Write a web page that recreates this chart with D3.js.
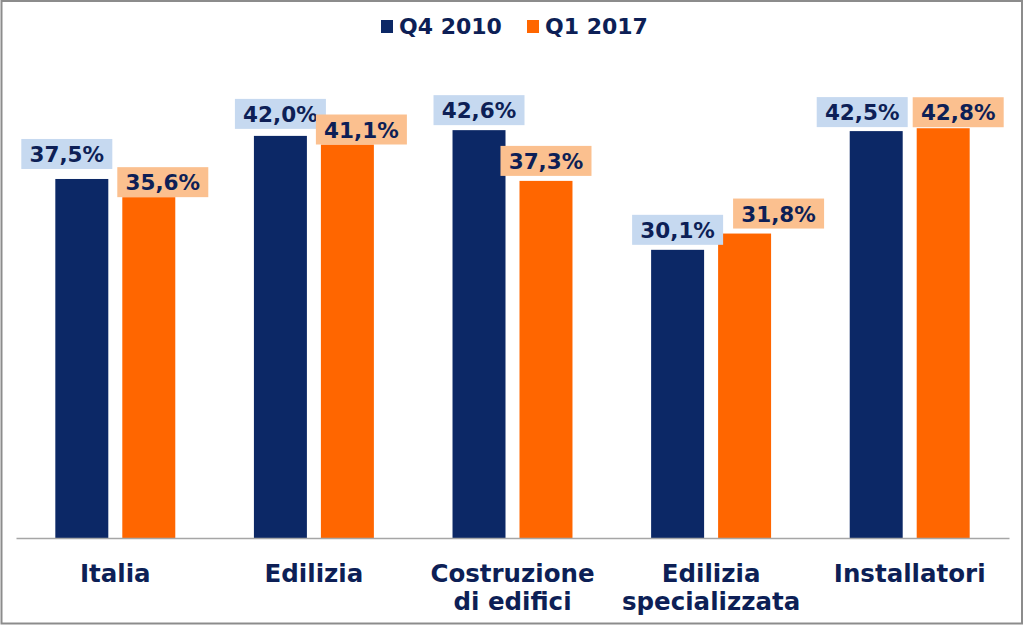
<!DOCTYPE html>
<html>
<head>
<meta charset="utf-8">
<script src="https://cdn.jsdelivr.net/npm/d3@7"></script>
<style>
  html, body { margin: 0; padding: 0; background: #fff; }
  svg { display: block; font-family: "DejaVu Sans", Verdana, sans-serif; font-weight: bold; }
</style>
</head>
<body>
<svg id="chart" width="1024" height="626"></svg>
<script>
// ---- data ----
const categories = [["Italia"], ["Edilizia"], ["Costruzione", "di edifici"], ["Edilizia", "specializzata"], ["Installatori"]];
const seriesNames = ["Q4 2010", "Q1 2017"];
const valuesQ4_2010 = [37.5, 42.0, 42.6, 30.1, 42.5];
const valuesQ1_2017 = [35.6, 41.1, 37.3, 31.8, 42.8];

// ---- layout / style ----
const W = 1024, H = 626;
const colors = { "Q4 2010": "#0c2866", "Q1 2017": "#ff6600" };
const labelFill = { "Q4 2010": "#c6d9f0", "Q1 2017": "#fbc08f" };
const textColor = "#0d1f56";
// manual label nudges (dx, dy) per series, per category, like the original
const labelNudge = {
  "Q4 2010": [[-15, -5], [0, -2], [0, 0], [0, 0], [-14, 1]],
  "Q1 2017": [[14, 5], [14, 5], [0, 0], [34, 0], [15, 4]]
};

const svg = d3.select("#chart");
svg.append("rect").attr("x", 0).attr("y", 0).attr("width", W).attr("height", H).attr("fill", "#fff");

const catKeys = categories.map(c => c.join(" "));
const x0 = d3.scaleBand().domain(catKeys).range([16, 1009]).paddingInner(0).paddingOuter(0);
const x1 = d3.scaleBand().domain(seriesNames).range([0, x0.bandwidth()]).paddingInner(0.209).paddingOuter(0.587);
const y = d3.scaleLinear().domain([0, 50]).range([538, 59.3]);

const rows = catKeys.map((k, i) => ({ key: k, lines: categories[i], i, vals: [
  { s: "Q4 2010", v: valuesQ4_2010[i] },
  { s: "Q1 2017", v: valuesQ1_2017[i] }
]}));

const g = svg.append("g");
const groups = g.selectAll("g.cat").data(rows).join("g")
  .attr("class", "cat")
  .attr("transform", d => `translate(${x0(d.key)},0)`);

groups.selectAll("rect.bar").data(d => d.vals).join("rect")
  .attr("class", "bar")
  .attr("x", d => x1(d.s))
  .attr("y", d => y(d.v))
  .attr("width", x1.bandwidth())
  .attr("height", d => y(0) - y(d.v))
  .attr("fill", d => colors[d.s]);

// axis baseline
const xAxis = d3.axisBottom(x0).tickSize(0).tickFormat("");
const ax = svg.append("g").attr("transform", `translate(0,${y(0)})`).call(xAxis);
ax.select(".domain").attr("stroke", "#a6a6a6").attr("stroke-width", 1.5);

// category labels
rows.forEach(r => {
  const cx = x0(r.key) + x0.bandwidth() / 2;
  const t = svg.append("text").attr("x", cx).attr("y", 582)
    .attr("text-anchor", "middle").attr("font-size", 24.5).attr("fill", textColor);
  r.lines.forEach((ln, j) => {
    t.append("tspan").attr("x", cx).attr("dy", j === 0 ? 0 : 28).text(ln);
  });
});

// data labels
const fmt = v => v.toFixed(1).replace(".", ",") + "%";
const boxW = 91, boxH = 30, gap = 5;
rows.forEach(r => {
  r.vals.forEach(d => {
    const n = labelNudge[d.s][r.i];
    const cx = x0(r.key) + x1(d.s) + x1.bandwidth() / 2 + n[0];
    const bottom = y(d.v) - gap + n[1];
    svg.append("rect").attr("x", cx - boxW / 2).attr("y", bottom - boxH)
      .attr("width", boxW).attr("height", boxH).attr("fill", labelFill[d.s]);
    svg.append("text").attr("x", cx).attr("y", bottom - boxH / 2 + 8)
      .attr("text-anchor", "middle").attr("font-size", 21.5).attr("fill", textColor)
      .text(fmt(d.v));
  });
});

// legend
const legendPos = [381, 527];
seriesNames.forEach((s, i) => {
  const lx = legendPos[i];
  svg.append("rect").attr("x", lx).attr("y", 20).attr("width", 12).attr("height", 13).attr("fill", colors[s]);
  svg.append("text").attr("x", lx + 18).attr("y", 34).attr("font-size", 22).attr("fill", textColor).text(s);
});

// outer border
svg.append("rect").attr("x", 1.5).attr("y", 1).attr("width", 1020.5).attr("height", 622.5)
  .attr("fill", "none").attr("stroke", "#8c8c8c").attr("stroke-width", 2);
</script>
</body>
</html>
